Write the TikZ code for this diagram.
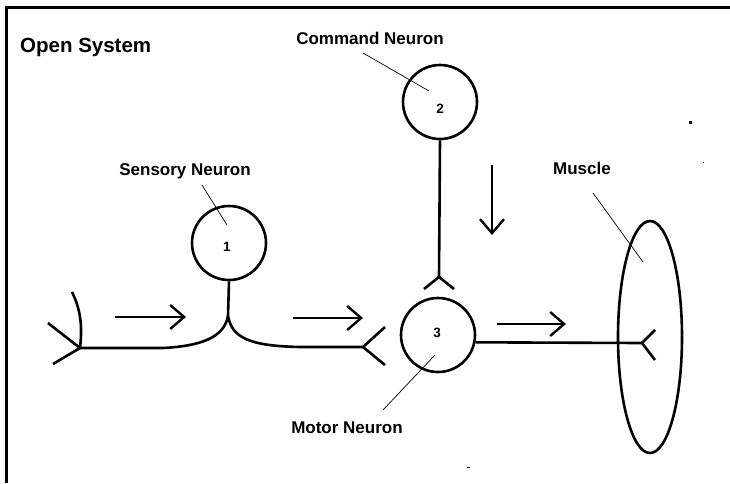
\documentclass[tikz,border=0pt]{standalone}
\usepackage{fontspec}
\setmainfont{Liberation Sans}
\usetikzlibrary{arrows.meta,shapes.geometric}
\begin{document}
\begin{tikzpicture}[x=1pt,y=-1pt,
  nerve/.style={line width=2.6pt},
  thin/.style={line width=0.7pt},
  cell/.style={circle,draw,line width=2.6pt,minimum size=74pt,inner sep=0pt},
  lbl/.style={font=\bfseries\fontsize{17}{19}\selectfont,inner sep=0pt},
  num/.style={font=\bfseries\fontsize{13.5}{15}\selectfont,inner sep=0pt},
  flow/.style={line width=2.4pt,-{Straight Barb[length=14pt,width=24pt,line width=2.4pt]}},
  speck/.style={fill=black}]
\useasboundingbox (0,0) rectangle (730,483);
% frame (top and left edges)
\draw[line width=3pt] (6.5,483) -- (6.5,7.5) -- (730,7.5);
\node[font=\bfseries\fontsize{20.5}{22}\selectfont,anchor=west,inner sep=0pt] (title) at (20,47) {Open System};

% cells
\node[cell] (sens) at (229,243) {};
\node[num] (n1) at (227,247) {1};
\node[cell] (cmd) at (440,102) {};
\node[num] (n2) at (440,109) {2};
\node[cell] (mot) at (438,335) {};
\node[num] (n3) at (437,333) {3};
\node[ellipse,draw,line width=2.6pt,minimum width=64pt,minimum height=232pt,inner sep=0pt] (muscle) at (650,337) {};

% labels and leaders
\node[lbl] (lcmd) at (370,38) {Command Neuron};
\node[lbl] (lsens) at (185,171) {Sensory Neuron};
\node[lbl] (lmot) at (347,428) {Motor Neuron};
\node[lbl] (lmus) at (582,168) {Muscle};
\coordinate (pc1) at (363,53); \coordinate (pc2) at (429,91);
\coordinate (ps1) at (202,185); \coordinate (ps2) at (227,225);
\coordinate (pm1) at (383,410); \coordinate (pm2) at (435,355);
\coordinate (pu1) at (593,193); \coordinate (pu2) at (643,262);
\draw[thin] (pc1) -- (pc2);
\draw[thin] (ps1) -- (ps2);
\draw[thin] (pm1) -- (pm2);
\draw[thin] (pu1) -- (pu2);

% sensory neuron axon
\coordinate (sj) at (228,316);
\coordinate (lf) at (80,348);
\coordinate (rf) at (363,347);
\draw[nerve] (sens.south) -- (sj);
\draw[nerve] (sj) .. controls (224,338) and (200,346) .. (163,348) -- (lf);
\draw[nerve] (sj) .. controls (232,338) and (250,346) .. (300,347) -- (rf);
% receptor ending
\coordinate (la) at (48,323); \coordinate (lb) at (53,364);
\coordinate (arc1) at (72,292);
\draw[nerve] (lf) -- (la);
\draw[nerve] (lf) -- (lb);
\draw[nerve] (arc1) .. controls (82,312) and (82,330) .. (lf);
% synapse onto motor neuron
\coordinate (ra) at (385,327); \coordinate (rb) at (385,365);
\draw[nerve] (rf) -- (ra);
\draw[nerve] (rf) -- (rb);

% command neuron axon
\coordinate (cj) at (439,277);
\coordinate (ca) at (424,289); \coordinate (cb) at (454,289);
\draw[nerve] (cmd.south) -- (cj);
\draw[nerve] (cj) -- (ca);
\draw[nerve] (cj) -- (cb);

% motor neuron axon to muscle
\coordinate (mf) at (642,343);
\coordinate (ma) at (655,330); \coordinate (mb) at (655,360);
\draw[nerve] (mot.-11) -- (mf);
\draw[nerve] (mf) -- (ma);
\draw[nerve] (mf) -- (mb);

% direction arrows
\coordinate (a1s) at (115,317); \coordinate (a1e) at (186,317);
\coordinate (a2s) at (293,318); \coordinate (a2e) at (363,318);
\coordinate (a3s) at (492,165); \coordinate (a3e) at (492,235);
\coordinate (a4s) at (497,324); \coordinate (a4e) at (566,324);
\draw[flow] (a1s) -- (a1e);
\draw[flow] (a2s) -- (a2e);
\draw[flow] (a3s) -- (a3e);
\draw[flow] (a4s) -- (a4e);

% stray specks
\fill[speck] (689,121) rectangle (691.5,123.5);
\fill[speck] (702.5,161.5) rectangle (703.8,162.8);
\fill[speck] (467,466.5) rectangle (469.5,468);
\end{tikzpicture}
\end{document}
